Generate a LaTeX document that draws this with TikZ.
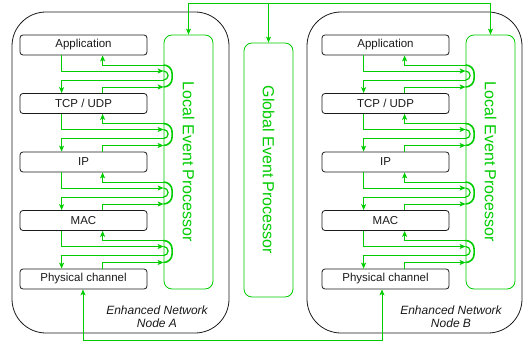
\documentclass[tikz,border=0pt]{standalone}
\usepackage{fontspec}
\setmainfont{Liberation Sans}
\usetikzlibrary{calc,arrows.meta}
\definecolor{eg}{HTML}{00CC00}
\definecolor{ink}{HTML}{1A1A1A}
\begin{document}
\begin{tikzpicture}[x=1pt,y=-1pt,
  layer/.style={draw=ink, line width=0.8pt, rounded corners=3pt, minimum width=127pt, minimum height=20pt, inner sep=0pt, font=\fontsize{11.5}{13}\selectfont, text=ink},
  proc/.style={draw=eg, line width=0.8pt, rounded corners=8pt, inner sep=0pt, minimum width=49pt},
  outerbox/.style={draw=ink, line width=0.8pt, rounded corners=34pt, inner sep=0pt},
  conn/.style={draw=eg, line width=0.8pt},
  tip/.style={-{Stealth[length=6pt,width=5pt,inset=1.5pt]}},
  bitip/.style={{Stealth[length=6pt,width=5pt,inset=1.5pt]}-{Stealth[length=6pt,width=5pt,inset=1.5pt]}},
  ptext/.style={rotate=-90, text=eg, font=\fontsize{16}{18}\selectfont, inner sep=0pt},
  nlabel/.style={align=center, text=ink, font=\fontsize{12}{13.5}\selectfont\itshape, inner sep=0pt}
]
\useasboundingbox (0,0) rectangle (529,342);

% outer node boxes
\node[outerbox, minimum width=217pt, minimum height=321pt] (nodeA) at (120.5,172.5) {};
\node[outerbox, minimum width=215pt, minimum height=321pt] (nodeB) at (414.5,172.5) {};
\node[nlabel] (labA) at (157,316.5) {Enhanced Network\\Node A};
\node[nlabel] (labB) at (451,316.5) {Enhanced Network\\Node B};

% processors
\node[proc, minimum height=254pt] (lepA) at (188.5,162) {};
\node[proc, minimum height=254pt] (lepB) at (490.5,162) {};
\node[proc, minimum height=254pt] (gep) at (268.5,170) {};
\node[ptext] (lepAt) at (lepA.center) {Local Event Processor};
\node[ptext] (lepBt) at (lepB.center) {Local Event Processor};
\node[ptext] (gept) at (gep.center) {Global Event Processor};

% layers
\foreach \n/\dx in {A/0,B/302} {
  \node[layer] (app\n) at (83.5+\dx,45) {Application};
  \node[layer] (tcp\n) at (83.5+\dx,103.5) {TCP / UDP};
  \node[layer] (ip\n) at (83.5+\dx,162) {IP};
  \node[layer] (mac\n) at (83.5+\dx,220.5) {MAC};
  \node[layer] (phy\n) at (83.5+\dx,279) {Physical channel};
}

% layer connectors
\foreach \n in {A,B} {
  \foreach \u/\l/\c in {app/tcp/45, tcp/ip/103.5, ip/mac/162, mac/phy/220.5} {
    \coordinate (h1) at (0,\c+20);
    \coordinate (h2) at (0,\c+26);
    \coordinate (h3) at (0,\c+35);
    \coordinate (h4) at (0,\c+42);
    \draw[conn,line width=1.6pt,rounded corners=8.5pt] (lep\n.west |- h1) -- ++(8.5,0) -- ++(0,22) -- ++(-8.5,0);
    \draw[conn,line width=1.2pt,rounded corners=4.5pt] (lep\n.west |- h2) -- ++(4.5,0) -- ++(0,9) -- ++(-4.5,0);
    \draw[conn,tip] ($(\u\n.south west)+(42,0)$) |- (lep\n.west |- h2);
    \draw[conn,tip] (lep\n.west |- h3) -| ($(\l\n.north west)+(42,0)$);
    \draw[conn,tip] ($(\l\n.north west)+(83,0)$) |- (lep\n.west |- h4);
    \draw[conn,tip] (lep\n.west |- h1) -| ($(\u\n.south west)+(83,0)$);
  }
}

% top connector between processors
\coordinate (topc) at (0,3);
\draw[conn,bitip] (lepA.north) -- (lepA.north |- topc) -| (lepB.north);
\draw[conn,tip] (gep.north |- topc) -- (gep.north);

% bottom connector between physical channels
\coordinate (botc) at (0,340);
\coordinate (pbA) at ($(phyA.south)+(-0.5,0)$);
\coordinate (pbB) at ($(phyB.south)+(-3.5,0)$);
\draw[conn,bitip] (pbA) -- (pbA |- botc) -| (pbB);
\end{tikzpicture}
\end{document}
